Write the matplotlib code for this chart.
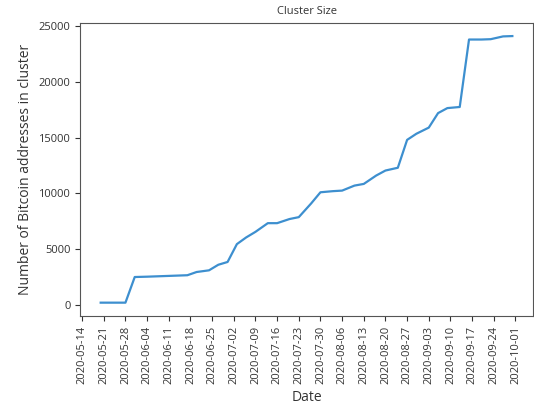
import matplotlib
matplotlib.use("Agg")
import matplotlib.pyplot as plt
import matplotlib.dates as mdates
import pandas as pd

plt.rcParams['font.family'] = ['Open Sans', 'DejaVu Sans']

# cluster size snapshots
dates = ['2020-05-20', '2020-05-24', '2020-05-28', '2020-05-31', '2020-06-04',
         '2020-06-07', '2020-06-11', '2020-06-14', '2020-06-17', '2020-06-20',
         '2020-06-24', '2020-06-27', '2020-06-30', '2020-07-03', '2020-07-06',
         '2020-07-09', '2020-07-13', '2020-07-16', '2020-07-20', '2020-07-23',
         '2020-07-27', '2020-07-30', '2020-08-03', '2020-08-06', '2020-08-10',
         '2020-08-13', '2020-08-17', '2020-08-20', '2020-08-24', '2020-08-27',
         '2020-08-30', '2020-09-03', '2020-09-06', '2020-09-09', '2020-09-13',
         '2020-09-16', '2020-09-20', '2020-09-23', '2020-09-27', '2020-09-30']
sizes = [200, 200, 200, 2500, 2530,
         2560, 2600, 2630, 2660, 2950,
         3100, 3600, 3850, 5450, 6050,
         6550, 7330, 7330, 7700, 7870,
         9100, 10100, 10200, 10250, 10700,
         10850, 11600, 12050, 12300, 14800,
         15350, 15900, 17200, 17650, 17750,
         23800, 23800, 23830, 24080, 24110]

ytick_vals = [0, 5000, 10000, 15000, 20000, 25000]

df = pd.DataFrame({'date': pd.to_datetime(dates), 'size': sizes})

fig = plt.figure(figsize=(5.34, 4.09), dpi=100)
ax = fig.add_axes([0.150, 0.2274, 0.848, 0.717])
ax.plot(df['date'], df['size'], color='#3d8fcf', linewidth=1.6)

# weekly ticks on Thursdays
ax.xaxis.set_major_locator(mdates.WeekdayLocator(byweekday=mdates.TH))
ax.xaxis.set_major_formatter(mdates.DateFormatter('%Y-%m-%d'))
ax.set_yticks(ytick_vals)

for lab in ax.get_xticklabels():
    lab.set_rotation(90)
ax.tick_params(labelsize=8, colors='#333333')

for sp in ax.spines.values():
    sp.set_color('#555555')

ax.set_title('Cluster Size', fontsize=8, color='#333333')
ax.set_xlabel('Date', fontsize=10, color='#333333')
ax.set_ylabel('Number of Bitcoin addresses in cluster', fontsize=10, color='#333333')

fig.savefig('out.png', dpi=100)
